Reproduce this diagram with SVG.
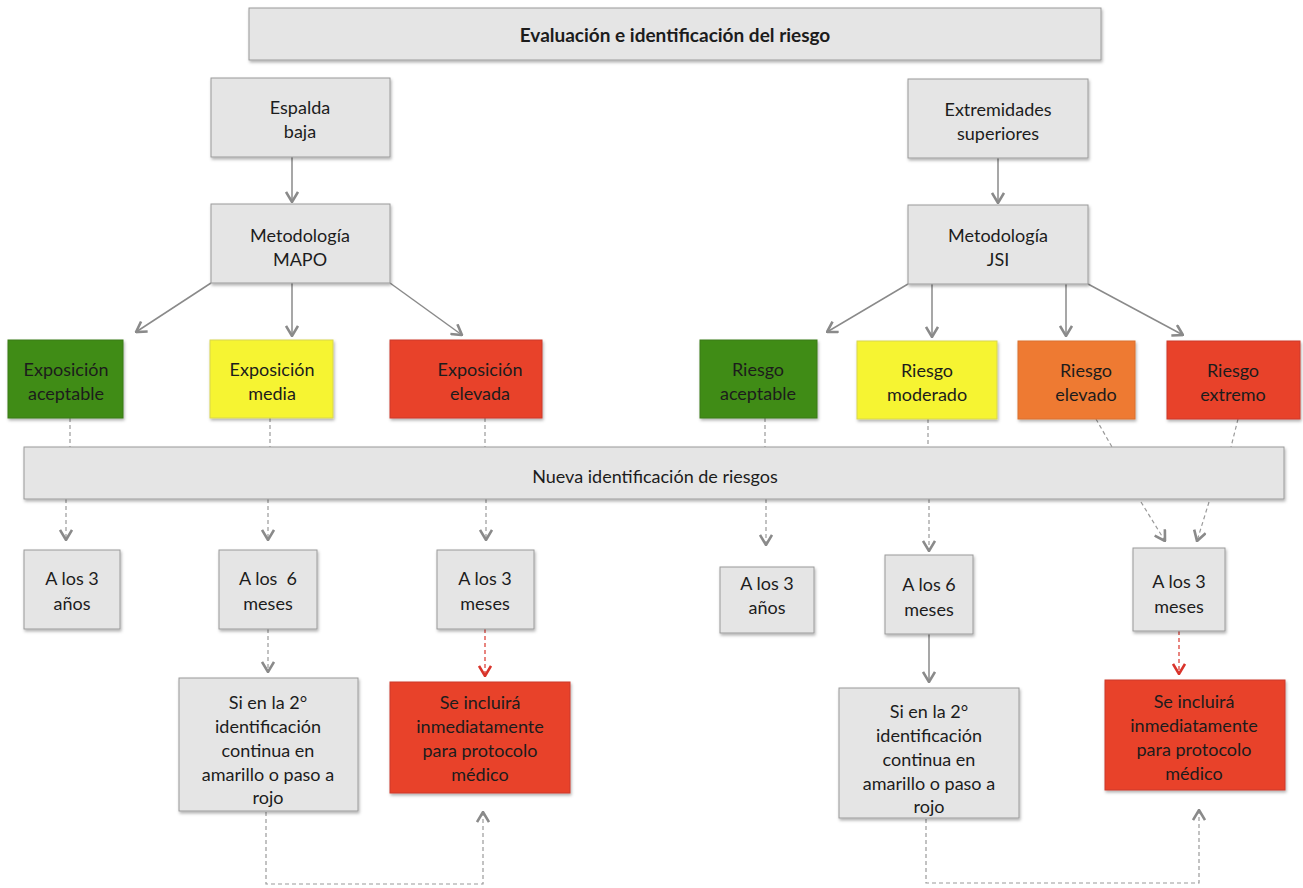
<svg xmlns="http://www.w3.org/2000/svg" width="1303" height="888" viewBox="0 0 1303 888">
<style>
.box{stroke:#9a9a9a;stroke-width:1;filter:url(#sh)}
.g{fill:#e5e5e5}
.green{fill:#3f8c12;stroke:#3a7a15}
.yellow{fill:#f6f433;stroke:#d8d650}
.orange{fill:#ee7a32;stroke:#d9702e}
.red{fill:#e8432c;stroke:#cc3b28}
text{font-family:Lato,"Liberation Sans",sans-serif;font-size:18px;fill:#1c1c1c;text-anchor:middle}
.title{font-weight:bold;font-size:19px}
.solid{stroke:#8a8a8a;stroke-width:1.5;fill:none;marker-end:url(#ag)}
.dash{stroke:#9a9a9a;stroke-width:1.2;fill:none;stroke-dasharray:4 3}
.dashA{stroke:#9a9a9a;stroke-width:1.2;fill:none;stroke-dasharray:4 3;marker-end:url(#ag)}
.dashR{stroke:#d9342b;stroke-width:1.2;fill:none;stroke-dasharray:4 3;marker-end:url(#ar)}
</style>
<defs>
<filter id="sh" x="-10%" y="-10%" width="130%" height="130%">
<feDropShadow dx="1" dy="2" stdDeviation="1.5" flood-color="#000" flood-opacity="0.3"/>
</filter>
<marker id="ag" viewBox="0 0 12 14" refX="11" refY="7" markerWidth="12" markerHeight="14" markerUnits="userSpaceOnUse" orient="auto">
<path d="M1,1 L11,7 L1,13" fill="none" stroke="#8a8a8a" stroke-width="2.6"/>
</marker>
<marker id="ar" viewBox="0 0 12 14" refX="11" refY="7" markerWidth="12" markerHeight="14" markerUnits="userSpaceOnUse" orient="auto">
<path d="M1,1 L11,7 L1,13" fill="none" stroke="#d9342b" stroke-width="2.6"/>
</marker>
</defs>
<rect width="1303" height="888" fill="#fff"/>

<g id="connectors">
<line class="solid" x1="292" y1="157" x2="292" y2="202"/>
<line class="solid" x1="998" y1="158" x2="998" y2="203"/>
<line class="solid" x1="211" y1="283" x2="136" y2="332"/>
<line class="solid" x1="292" y1="283" x2="292" y2="336"/>
<line class="solid" x1="390" y1="283" x2="462" y2="335"/>
<line class="solid" x1="908" y1="284" x2="827" y2="332"/>
<line class="solid" x1="932" y1="284" x2="932" y2="337"/>
<line class="solid" x1="1066" y1="284" x2="1066" y2="336"/>
<line class="solid" x1="1088" y1="284" x2="1183" y2="335"/>
<line class="dash" x1="70" y1="418" x2="70" y2="447"/>
<line class="dash" x1="270" y1="418" x2="270" y2="447"/>
<line class="dash" x1="485" y1="418" x2="485" y2="447"/>
<line class="dash" x1="765" y1="418" x2="765" y2="447"/>
<line class="dash" x1="928" y1="419" x2="928" y2="447"/>
<line class="dash" x1="1096" y1="419" x2="1112" y2="447"/>
<line class="dash" x1="1238" y1="419" x2="1231" y2="447"/>
<line class="dashA" x1="66" y1="499" x2="66" y2="540"/>
<line class="dashA" x1="268" y1="499" x2="268" y2="540"/>
<line class="dashA" x1="486" y1="499" x2="486" y2="540"/>
<line class="dashA" x1="766" y1="499" x2="766" y2="545"/>
<line class="dashA" x1="929" y1="499" x2="929" y2="551"/>
<line class="dashA" x1="1141" y1="502" x2="1165" y2="541"/>
<line class="dashA" x1="1209" y1="502" x2="1197" y2="541"/>
<line class="dashA" x1="268" y1="629" x2="268" y2="672"/>
<line class="dashR" x1="485" y1="629" x2="485" y2="676"/>
<line class="solid" x1="929" y1="634" x2="929" y2="682"/>
<line class="dashR" x1="1179" y1="631" x2="1179" y2="674"/>
<path class="dashA" d="M266,812 L266,884 L483,884 L483,812"/>
<path class="dashA" d="M926,819 L926,883 L1199,883 L1199,810"/>
</g>

<g id="title"><rect class="box g" x="249" y="8" width="852" height="52"/><text class="title" x="675" y="42">Evaluación e identificación del riesgo</text></g>
<g id="espalda"><rect class="box g" x="211" y="78" width="179" height="79"/><text x="300" y="114">Espalda</text><text x="300" y="138">baja</text></g>
<g id="extremidades"><rect class="box g" x="908" y="79" width="180" height="79"/><text x="998" y="116">Extremidades</text><text x="998" y="140">superiores</text></g>
<g id="mapo"><rect class="box g" x="211" y="204" width="179" height="79"/><text x="300" y="242">Metodología</text><text x="300" y="266">MAPO</text></g>
<g id="jsi"><rect class="box g" x="908" y="205" width="180" height="79"/><text x="998" y="242">Metodología</text><text x="998" y="266">JSI</text></g>

<g id="exp-aceptable"><rect class="box green" x="8" y="340" width="115" height="78"/><text x="66" y="376">Exposición</text><text x="66" y="400">aceptable</text></g>
<g id="exp-media"><rect class="box yellow" x="210" y="340" width="123" height="78"/><text x="272" y="376">Exposición</text><text x="272" y="400">media</text></g>
<g id="exp-elevada"><rect class="box red" x="390" y="340" width="152" height="78"/><text x="480" y="376">Exposición</text><text x="480" y="400">elevada</text></g>
<g id="r-aceptable"><rect class="box green" x="700" y="340" width="117" height="78"/><text x="758" y="376">Riesgo</text><text x="758" y="400">aceptable</text></g>
<g id="r-moderado"><rect class="box yellow" x="857" y="341" width="140" height="78"/><text x="927" y="377">Riesgo</text><text x="927" y="401">moderado</text></g>
<g id="r-elevado"><rect class="box orange" x="1018" y="341" width="117" height="78"/><text x="1086" y="377">Riesgo</text><text x="1086" y="401">elevado</text></g>
<g id="r-extremo"><rect class="box red" x="1167" y="341" width="133" height="78"/><text x="1233" y="377">Riesgo</text><text x="1233" y="401">extremo</text></g>

<g id="nueva"><rect class="box g" x="24" y="447" width="1260" height="52"/><text x="655" y="483">Nueva identificación de riesgos</text></g>

<g id="l-3anos"><rect class="box g" x="24" y="550" width="96" height="79"/><text x="72" y="585">A los 3</text><text x="72" y="610">años</text></g>
<g id="l-6meses"><rect class="box g" x="219" y="550" width="98" height="79"/><text x="268" y="585" xml:space="preserve">A los  6</text><text x="268" y="610">meses</text></g>
<g id="l-3meses"><rect class="box g" x="437" y="550" width="97" height="79"/><text x="485" y="585">A los 3</text><text x="485" y="610">meses</text></g>
<g id="r-3anos"><rect class="box g" x="720" y="567" width="94" height="66"/><text x="767" y="590">A los 3</text><text x="767" y="614">años</text></g>
<g id="r-6meses"><rect class="box g" x="885" y="555" width="88" height="79"/><text x="929" y="591">A los 6</text><text x="929" y="616">meses</text></g>
<g id="r-3meses"><rect class="box g" x="1133" y="548" width="92" height="83"/><text x="1179" y="588">A los 3</text><text x="1179" y="613">meses</text></g>

<g id="l-si"><rect class="box g" x="179" y="678" width="179" height="133"/><text x="268" y="709">Si en la 2°</text><text x="268" y="733">identificación</text><text x="268" y="757">continua en</text><text x="268" y="781">amarillo o paso a</text><text x="268" y="804">rojo</text></g>
<g id="l-incluira"><rect class="box red" x="390" y="682" width="180" height="111"/><text x="480" y="709">Se incluirá</text><text x="480" y="733">inmediatamente</text><text x="480" y="757">para protocolo</text><text x="480" y="781">médico</text></g>
<g id="r-si"><rect class="box g" x="839" y="688" width="180" height="130"/><text x="929" y="718">Si en la 2°</text><text x="929" y="742">identificación</text><text x="929" y="766">continua en</text><text x="929" y="790">amarillo o paso a</text><text x="929" y="813">rojo</text></g>
<g id="r-incluira"><rect class="box red" x="1105" y="680" width="180" height="110"/><text x="1194" y="708">Se incluirá</text><text x="1194" y="732">inmediatamente</text><text x="1194" y="756">para protocolo</text><text x="1194" y="780">médico</text></g>
</svg>
